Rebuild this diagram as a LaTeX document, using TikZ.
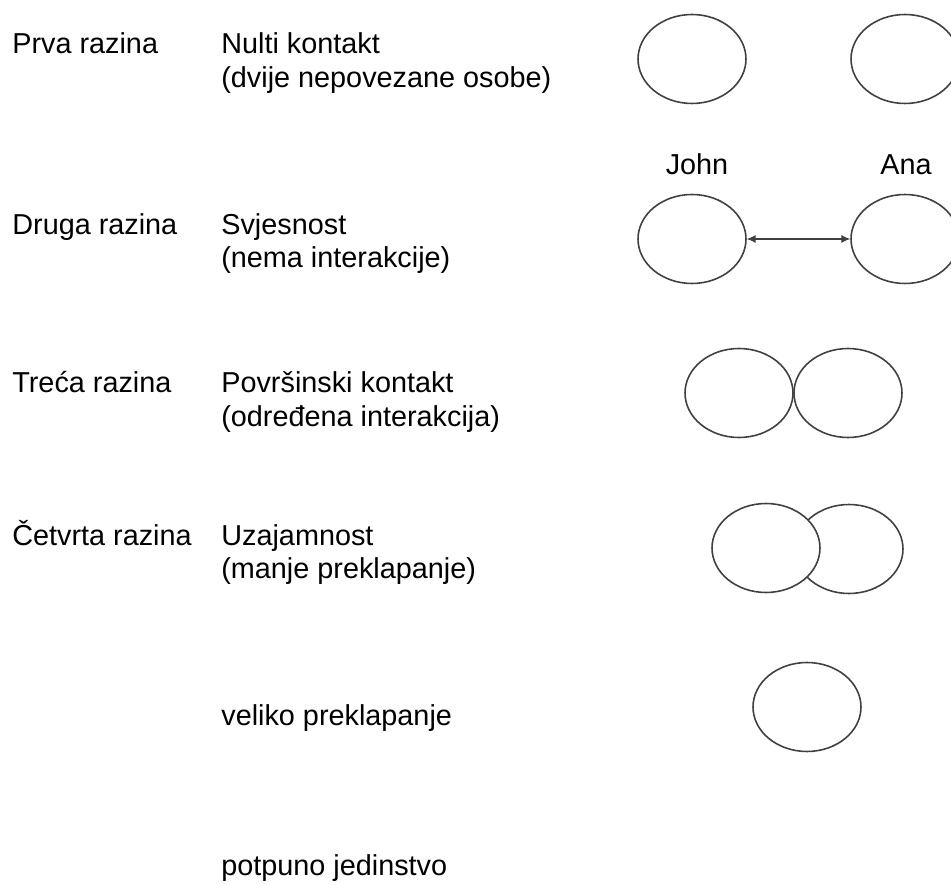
\documentclass[tikz,border=0pt]{standalone}
\usepackage{fontspec}
\setmainfont{Liberation Sans}
\usetikzlibrary{shapes.geometric,arrows.meta,positioning}
\begin{document}
\begin{tikzpicture}[x=0.02cm, y=-0.02cm,
    person/.style = {draw=black!75, line width=0.9pt, ellipse, minimum width=2.16cm, minimum height=1.78cm, inner sep=0pt},
    txt/.style = {anchor=base west, inner sep=0pt, font=\fontsize{16.4}{19}\selectfont}]
    \clip (0,0) rectangle (951,885);

    % razine
    \node[txt] (r1) at (12,54) {Prva razina};
    \node[txt] (r2) at (12,235) {Druga razina};
    \node[txt] (r3) at (12,393) {Treća razina};
    \node[txt] (r4) at (12,545) {Četvrta razina};

    % opisi
    \node[txt] (o1) at (221,54) {Nulti kontakt};
    \node[txt] (o1b) at (221,88) {(dvije nepovezane osobe)};
    \node[txt] (o2) at (221,235) {Svjesnost};
    \node[txt] (o2b) at (221,268) {(nema interakcije)};
    \node[txt] (o3) at (221,393) {Površinski kontakt};
    \node[txt] (o3b) at (221,427) {(određena interakcija)};
    \node[txt] (o4) at (221,545) {Uzajamnost};
    \node[txt] (o4b) at (221,579) {(manje preklapanje)};
    \node[txt] (o5) at (221,725) {veliko preklapanje};
    \node[txt] (o6) at (221,875) {potpuno jedinstvo};

    % osobe
    \node[person] (a1) at (692,59) {};
    \node[person] (b1) at (905,59) {};

    \node[person] (a2) at (692,239) {};
    \node[person] (b2) at (905,239) {};
    \node[txt, anchor=base] (john) at (697,175) {John};
    \node[txt, anchor=base] (ana) at (906,175) {Ana};
    \draw[{Latex[length=5pt,width=4.5pt]}-{Latex[length=5pt,width=4.5pt]}, line width=0.6pt, black!75] (a2) -- (b2);

    \node[person] (a3) at (739,393) {};
    \node[person] (b3) at (848,393) {};

    \node[person] (b4) at (849,549) {};
    \node[person, fill=white] (a4) at (766,548) {};

    \node[person] (a5) at (807,707) {};
\end{tikzpicture}
\end{document}
